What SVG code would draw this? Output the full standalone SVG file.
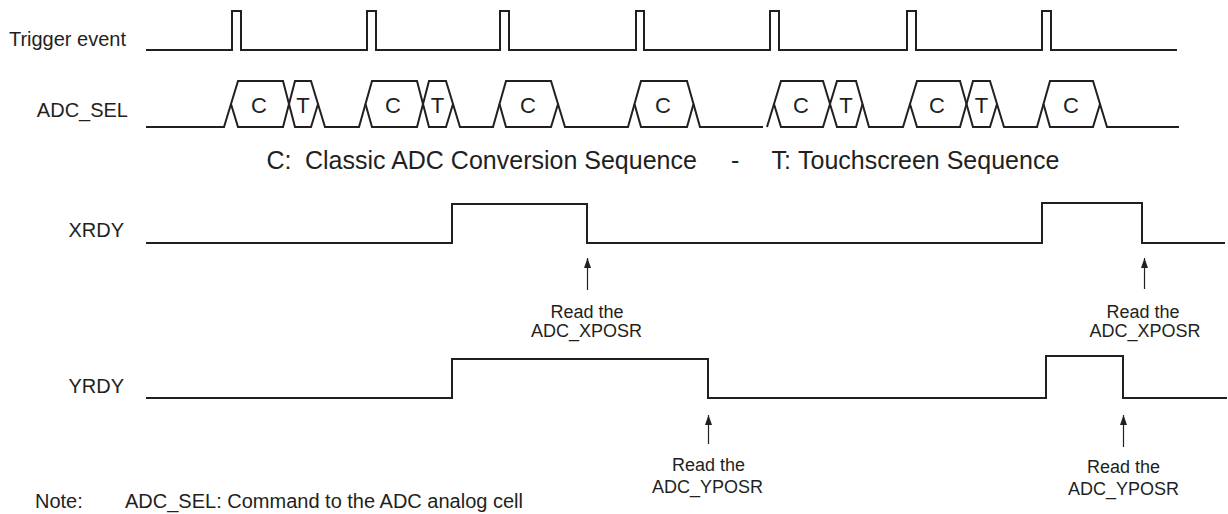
<svg xmlns="http://www.w3.org/2000/svg" width="1228" height="514" viewBox="0 0 1228 514">
<style>
.sig{fill:none;stroke:#231f20;stroke-width:2;stroke-linejoin:miter}
.hex{fill:none;stroke:#231f20;stroke-width:2;stroke-linejoin:miter}
.lbl{font-family:"Liberation Sans",Arial,sans-serif;font-size:20px;fill:#231f20}
.cell{font-family:"Liberation Sans",Arial,sans-serif;font-size:22px;fill:#231f20;text-anchor:middle}
.leg{font-family:"Liberation Sans",Arial,sans-serif;font-size:25px;fill:#231f20}
.rd{font-family:"Liberation Sans",Arial,sans-serif;font-size:18px;fill:#231f20;text-anchor:middle}
.arr{fill:none;stroke:#231f20;stroke-width:1.2;marker-end:url(#ah)}
</style>
<defs>
<marker id="ah" markerUnits="userSpaceOnUse" markerWidth="10" markerHeight="7" refX="10" refY="3.5" orient="auto" viewBox="0 0 10 7">
<path d="M0,0 L10,3.5 L0,7 Z" fill="#231f20"/>
</marker>
</defs>
<rect width="1228" height="514" fill="#ffffff"/>

<g id="trigger">
<text class="lbl" x="126" y="46" text-anchor="end">Trigger event</text>
<path class="sig" d="M146,50 H232 V11 H241 V50 H367 V11 H376 V50 H500 V11 H509 V50 H636 V11 H644 V50 H770 V11 H779 V50 H907 V11 H916 V50 H1042 V11 H1051 V50 H1177"/>
</g>

<g id="adc_sel">
<text class="lbl" x="128" y="117" text-anchor="end">ADC_SEL</text>
<path class="sig" d="M146,127 H224 L231,104 M318,104 L325,127 H359 L365.5,104 M453,104 L460,127 H493 L499.5,104 M558,104 L565,127 H628 L634.5,104 M693.5,104 L700,127 H763 M767,127 L774,104 M862.5,104 L869,127 H903 L910,104 M997,104 L1004,127 H1037 L1043.5,104 M1100,104 L1107,127 H1179"/>
<polygon class="hex" points="231,104 238,81 283,81 289,104 283,127 238,127"/>
<polygon class="hex" points="289,104 295,81 311,81 318,104 311,127 295,127"/>
<polygon class="hex" points="365.5,104 372,81 417,81 423,104 417,127 372,127"/>
<polygon class="hex" points="423,104 429,81 446,81 453,104 446,127 429,127"/>
<polygon class="hex" points="499.5,104 506,81 551,81 558,104 551,127 506,127"/>
<polygon class="hex" points="634.5,104 641,81 687,81 693.5,104 687,127 641,127"/>
<polygon class="hex" points="774,104 781,81 823,81 830,104 823,127 781,127"/>
<polygon class="hex" points="830,104 837,81 856,81 862.5,104 856,127 837,127"/>
<polygon class="hex" points="910,104 917,81 960,81 966.5,104 960,127 917,127"/>
<polygon class="hex" points="966.5,104 973,81 990,81 997,104 990,127 973,127"/>
<polygon class="hex" points="1043.5,104 1050,81 1093,81 1100,104 1093,127 1050,127"/>
<text class="cell" x="259" y="113">C</text>
<text class="cell" x="303" y="113">T</text>
<text class="cell" x="393" y="113">C</text>
<text class="cell" x="437.5" y="113">T</text>
<text class="cell" x="528" y="113">C</text>
<text class="cell" x="663" y="113">C</text>
<text class="cell" x="801" y="113">C</text>
<text class="cell" x="846" y="113">T</text>
<text class="cell" x="937" y="113">C</text>
<text class="cell" x="981.5" y="113">T</text>
<text class="cell" x="1071" y="113">C</text>
</g>

<g id="legend">
<text class="leg" y="169"><tspan x="266.5">C:</tspan><tspan x="305">Classic ADC Conversion Sequence</tspan><tspan x="731">-</tspan><tspan x="771.5">T:</tspan><tspan x="798">Touchscreen Sequence</tspan></text>
</g>

<g id="xrdy">
<text class="lbl" x="124" y="237" text-anchor="end">XRDY</text>
<path class="sig" d="M146,243 H452 V204 H587 V243 H1042 V203 H1142 V243 H1225"/>
</g>

<g id="yrdy">
<text class="lbl" x="124" y="393" text-anchor="end">YRDY</text>
<path class="sig" d="M146,398 H452 V359 H708 V398 H1046 V356 H1123 V398 H1227"/>
</g>

<g id="connectors">
<line class="arr" x1="587.5" y1="290" x2="587.5" y2="258"/>
<line class="arr" x1="1144.5" y1="289" x2="1144.5" y2="258"/>
<line class="arr" x1="708.5" y1="444" x2="708.5" y2="415"/>
<line class="arr" x1="1123.5" y1="447" x2="1123.5" y2="415"/>
</g>

<g id="read-x1">
<text class="rd" x="587" y="318">Read the</text>
<text class="rd" x="586.5" y="337">ADC_XPOSR</text>
</g>
<g id="read-x2">
<text class="rd" x="1143" y="318">Read the</text>
<text class="rd" x="1145" y="337">ADC_XPOSR</text>
</g>
<g id="read-y1">
<text class="rd" x="708.5" y="471">Read the</text>
<text class="rd" x="707.5" y="493">ADC_YPOSR</text>
</g>
<g id="read-y2">
<text class="rd" x="1123.5" y="473">Read the</text>
<text class="rd" x="1123.5" y="495">ADC_YPOSR</text>
</g>

<g id="note">
<text class="lbl" y="508"><tspan x="35">Note:</tspan><tspan x="125">ADC_SEL: Command to the ADC analog cell</tspan></text>
</g>
</svg>
